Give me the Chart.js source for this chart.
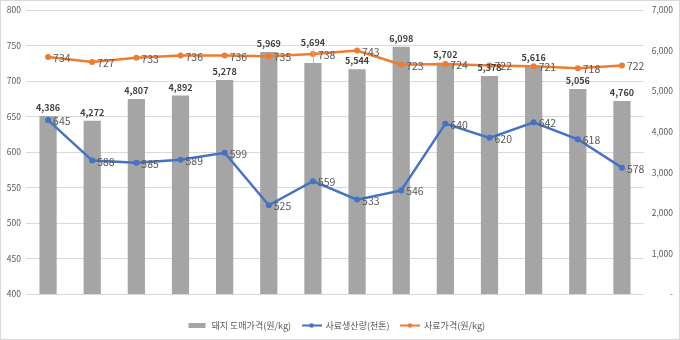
<!DOCTYPE html>
<html>
<head>
<meta charset="utf-8">
<script src="https://cdn.jsdelivr.net/npm/chart.js@4"></script>
<style>
  html, body { margin: 0; padding: 0; background: #fff; }
  canvas { display: block; }
</style>
</head>
<body>
<canvas id="chart" width="680" height="340"></canvas>
<script>
// --- 데이터 ---
const months = ['24년 1월', '2월', '3월', '4월', '5월', '6월', '7월', '8월', '9월', '10월', '11월', '12월', '1월', '2월'];
const pigPrice = [4386, 4272, 4807, 4892, 5278, 5969, 5694, 5544, 6098, 5702, 5378, 5616, 5056, 4760];
const feedOutput = [645, 588, 585, 589, 599, 525, 559, 533, 546, 640, 620, 642, 618, 578];
const feedPrice = [734, 727, 733, 736, 736, 735, 738, 743, 723, 724, 722, 721, 718, 722];
const leftTicks = [400, 450, 500, 550, 600, 650, 700, 750, 800];

const FONT = "'Noto Sans CJK KR', 'Noto Sans', sans-serif";
const GRAY = '#a5a5a5';
const BLUE = '#4472c4';
const ORANGE = '#ed7d31';

// 7월 막대 라벨은 엑셀처럼 위로 올리고 지시선을 그림
const RAISED = { 6: 12 };

const fmt = v => v.toLocaleString('en-US');

// --- 범례 아이콘 ---
function makeIcon(color, isLine) {
  const c = document.createElement('canvas');
  c.width = 20; c.height = 7;
  const g = c.getContext('2d');
  if (isLine) {
    g.strokeStyle = color; g.lineWidth = 2;
    g.beginPath(); g.moveTo(0, 3.5); g.lineTo(20, 3.5); g.stroke();
    g.fillStyle = color;
    g.beginPath(); g.arc(10, 3.5, 2.3, 0, Math.PI * 2); g.fill();
  } else {
    g.fillStyle = color;
    g.fillRect(1, 1, 17, 5);
  }
  return c;
}
const icons = [makeIcon(GRAY, false), makeIcon(BLUE, true), makeIcon(ORANGE, true)];

// --- 값 라벨 + 테두리 ---
const labelPlugin = {
  id: 'valueLabels',
  afterDatasetsDraw(chart) {
    const ctx = chart.ctx;
    ctx.save();
    chart.data.datasets.forEach((ds, i) => {
      const meta = chart.getDatasetMeta(i);
      meta.data.forEach((el, j) => {
        const v = ds.data[j];
        if (ds.type === 'bar') {
          const up = RAISED[j] || 0;
          if (up) {
            ctx.strokeStyle = '#bfbfbf';
            ctx.lineWidth = 1;
            ctx.beginPath();
            ctx.moveTo(Math.round(el.x) + 0.5, el.y);
            ctx.lineTo(Math.round(el.x) + 0.5, el.y - up - 2);
            ctx.stroke();
          }
          ctx.font = '600 9px ' + FONT;
          ctx.fillStyle = '#404040';
          ctx.textAlign = 'center';
          ctx.textBaseline = 'bottom';
          ctx.fillText(fmt(v), el.x, el.y - 4 - up);
        } else {
          ctx.font = '10.5px ' + FONT;
          ctx.fillStyle = '#595959';
          ctx.textAlign = 'left';
          ctx.textBaseline = 'middle';
          ctx.fillText(String(v), el.x + 5, el.y + 1);
        }
      });
    });
    ctx.restore();
  },
  afterDraw(chart) {
    const ctx = chart.ctx;
    ctx.save();
    ctx.strokeStyle = '#d9d9d9';
    ctx.lineWidth = 1;
    ctx.strokeRect(0.5, 0.5, chart.width - 1, chart.height - 1);
    ctx.restore();
  }
};

new Chart(document.getElementById('chart'), {
  data: {
    labels: months,
    datasets: [
      {
        type: 'bar',
        label: '돼지 도매가격(원/kg)',
        data: pigPrice,
        backgroundColor: GRAY,
        yAxisID: 'y1',
        barPercentage: 0.39,
        categoryPercentage: 1,
        order: 3
      },
      {
        type: 'line',
        label: '사료생산량(천톤)',
        data: feedOutput,
        borderColor: BLUE,
        backgroundColor: BLUE,
        borderWidth: 2.5,
        pointRadius: 3,
        pointBorderWidth: 0,
        yAxisID: 'y',
        order: 2
      },
      {
        type: 'line',
        label: '사료가격(원/kg)',
        data: feedPrice,
        borderColor: ORANGE,
        backgroundColor: ORANGE,
        borderWidth: 2.5,
        pointRadius: 3,
        pointBorderWidth: 0,
        yAxisID: 'y',
        order: 1
      }
    ]
  },
  options: {
    responsive: false,
    animation: false,
    layout: { padding: { top: 5, left: 0, right: 7, bottom: 0 } },
    scales: {
      x: {
        offset: true,
        grid: { display: false },
        border: { display: false },
        ticks: { color: '#595959', font: { family: FONT, size: 8.5 }, padding: 8, maxRotation: 0 },
        afterFit: s => { s.height = 16; }
      },
      y: {
        position: 'left',
        min: 400,
        max: 800,
        afterBuildTicks: s => { s.ticks = leftTicks.map(v => ({ value: v })); },
        grid: { color: '#d9d9d9', drawTicks: false },
        border: { display: false },
        ticks: { color: '#595959', font: { family: FONT, size: 8.5 }, padding: 5 },
        afterFit: s => { s.width = 26; }
      },
      y1: {
        position: 'right',
        min: 0,
        max: 7000,
        grid: { display: false, drawTicks: false },
        border: { display: false },
        ticks: {
          stepSize: 1000,
          color: '#595959',
          font: { family: FONT, size: 8.5 },
          padding: 4,
          crossAlign: 'far',
          callback: v => v === 0 ? '-' : fmt(v)
        },
        afterFit: s => { s.width = 29; }
      }
    },
    plugins: {
      tooltip: { enabled: false },
      legend: {
        position: 'bottom',
        labels: {
          usePointStyle: true,
          pointStyleWidth: 19,
          padding: 11,
          color: '#595959',
          font: { family: FONT, size: 9 },
          generateLabels: chart => chart.data.datasets.map((ds, i) => ({
            text: ds.label,
            pointStyle: icons[i],
            datasetIndex: i,
            hidden: false,
            fontColor: '#595959',
            fillStyle: 'transparent',
            strokeStyle: 'transparent',
            lineWidth: 0
          }))
        }
      }
    }
  },
  plugins: [labelPlugin]
});
</script>
</body>
</html>
